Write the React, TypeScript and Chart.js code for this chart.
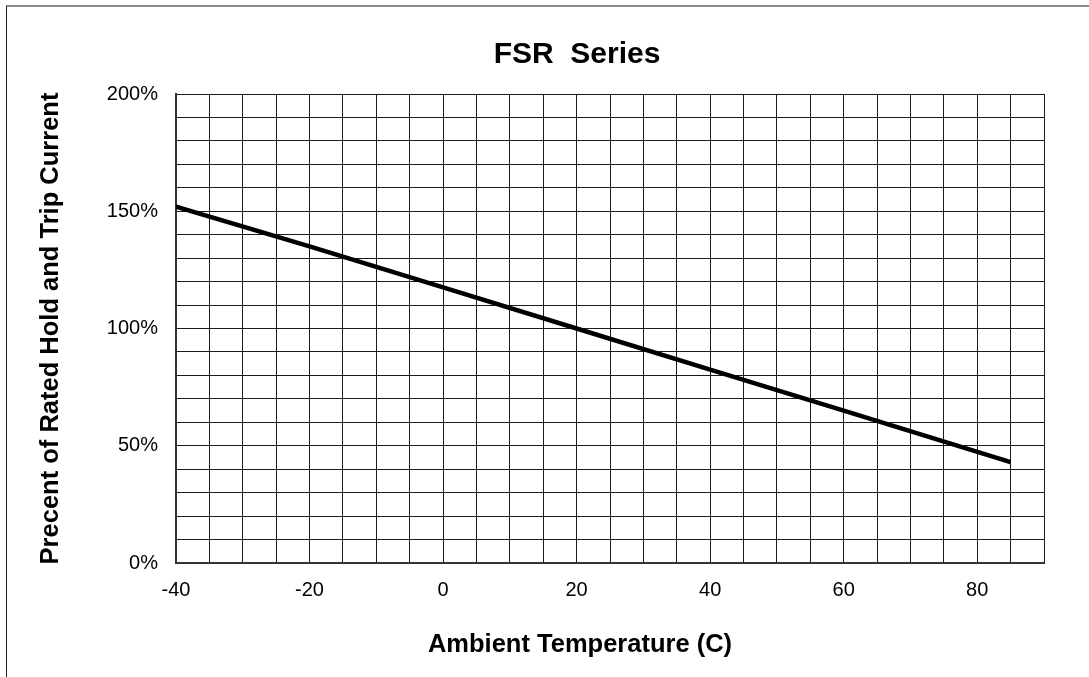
import { useEffect, useRef } from 'react';
import { Chart, registerables } from 'chart.js';

Chart.register(...registerables);

const temperatures = [-40, -20, 0, 20, 40, 60, 85];
const ratedPercent = [152, 135, 117.5, 100, 82.5, 65, 43];
const xTickLabels = [-40, -20, 0, 20, 40, 60, 80];
const yTickLabels = [0, 50, 100, 150, 200];

const chartTitle = 'FSR  Series';
const xAxisTitle = 'Ambient Temperature (C)';
const yAxisTitle = 'Precent of Rated Hold and Trip Current';

const FONT = "'Liberation Sans', Arial, Helvetica, sans-serif";

const titlesPlugin = {
  id: 'centeredTitles',
  afterDraw(chart: any) {
    const ctx = chart.ctx as CanvasRenderingContext2D;
    ctx.save();
    ctx.fillStyle = '#000';
    ctx.textAlign = 'center';
    ctx.textBaseline = 'alphabetic';
    ctx.font = `bold 30px ${FONT}`;
    ctx.fillText(chartTitle, 577, 63);
    ctx.font = `bold 25.5px ${FONT}`;
    ctx.fillText(xAxisTitle, 580, 652);
    ctx.restore();
  },
};

export default function App() {
  const ref = useRef<HTMLCanvasElement | null>(null);

  useEffect(() => {
    if (!ref.current) return;
    const chart = new Chart(ref.current, {
      type: 'line',
      data: {
        datasets: [
          {
            label: 'FSR',
            data: temperatures.map((t, i) => ({ x: t, y: ratedPercent[i] })),
            borderColor: '#000',
            borderWidth: 4.5,
            pointRadius: 0,
            tension: 0,
            fill: false,
          },
        ],
      },
      options: {
        animation: false,
        responsive: false,
        layout: { padding: { left: 0, right: 45, top: 94, bottom: 0 } },
        plugins: {
          legend: { display: false },
          tooltip: { enabled: false },
          title: { display: false },
        },
        scales: {
          x: {
            type: 'linear',
            min: -40,
            max: 90,
            afterFit: (s: any) => {
              s.height = 114;
            },
            ticks: {
              stepSize: 5,
              autoSkip: false,
              maxRotation: 0,
              padding: 15,
              color: '#000',
              font: { family: FONT, size: 20 },
              callback: (v: any) => (xTickLabels.includes(Number(v)) ? String(v) : ''),
            },
            grid: { color: '#1a1a1a', lineWidth: 1, drawTicks: false },
            border: { color: '#333', width: 2 },
          },
          y: {
            type: 'linear',
            min: 0,
            max: 200,
            afterFit: (s: any) => {
              s.width = 176;
            },
            ticks: {
              stepSize: 10,
              autoSkip: false,
              padding: 18,
              color: '#000',
              font: { family: FONT, size: 20 },
              callback: (v: any) => (yTickLabels.includes(Number(v)) ? v + '%' : ''),
            },
            grid: { color: '#1a1a1a', lineWidth: 1, drawTicks: false },
            border: { color: '#333', width: 2 },
            title: {
              display: true,
              text: yAxisTitle,
              color: '#000',
              font: { family: FONT, size: 25.5, weight: 'bold' },
              padding: { top: 35.5, bottom: 0 },
            },
          },
        },
      },
      plugins: [titlesPlugin],
    });
    return () => chart.destroy();
  }, []);

  return (
    <div style={{ position: 'absolute', left: 0, top: 0, width: 1089, height: 677, background: '#fff', overflow: 'hidden' }}>
      <div
        style={{
          position: 'absolute',
          left: 6,
          top: 5,
          width: 1200,
          height: 800,
          borderTop: '2px solid #8a8a8a',
          borderLeft: '1px solid #222',
          boxSizing: 'border-box',
        }}
      />
      <canvas ref={ref} width={1089} height={677} style={{ position: 'absolute', left: 0, top: 0, display: 'block' }} />
    </div>
  );
}
